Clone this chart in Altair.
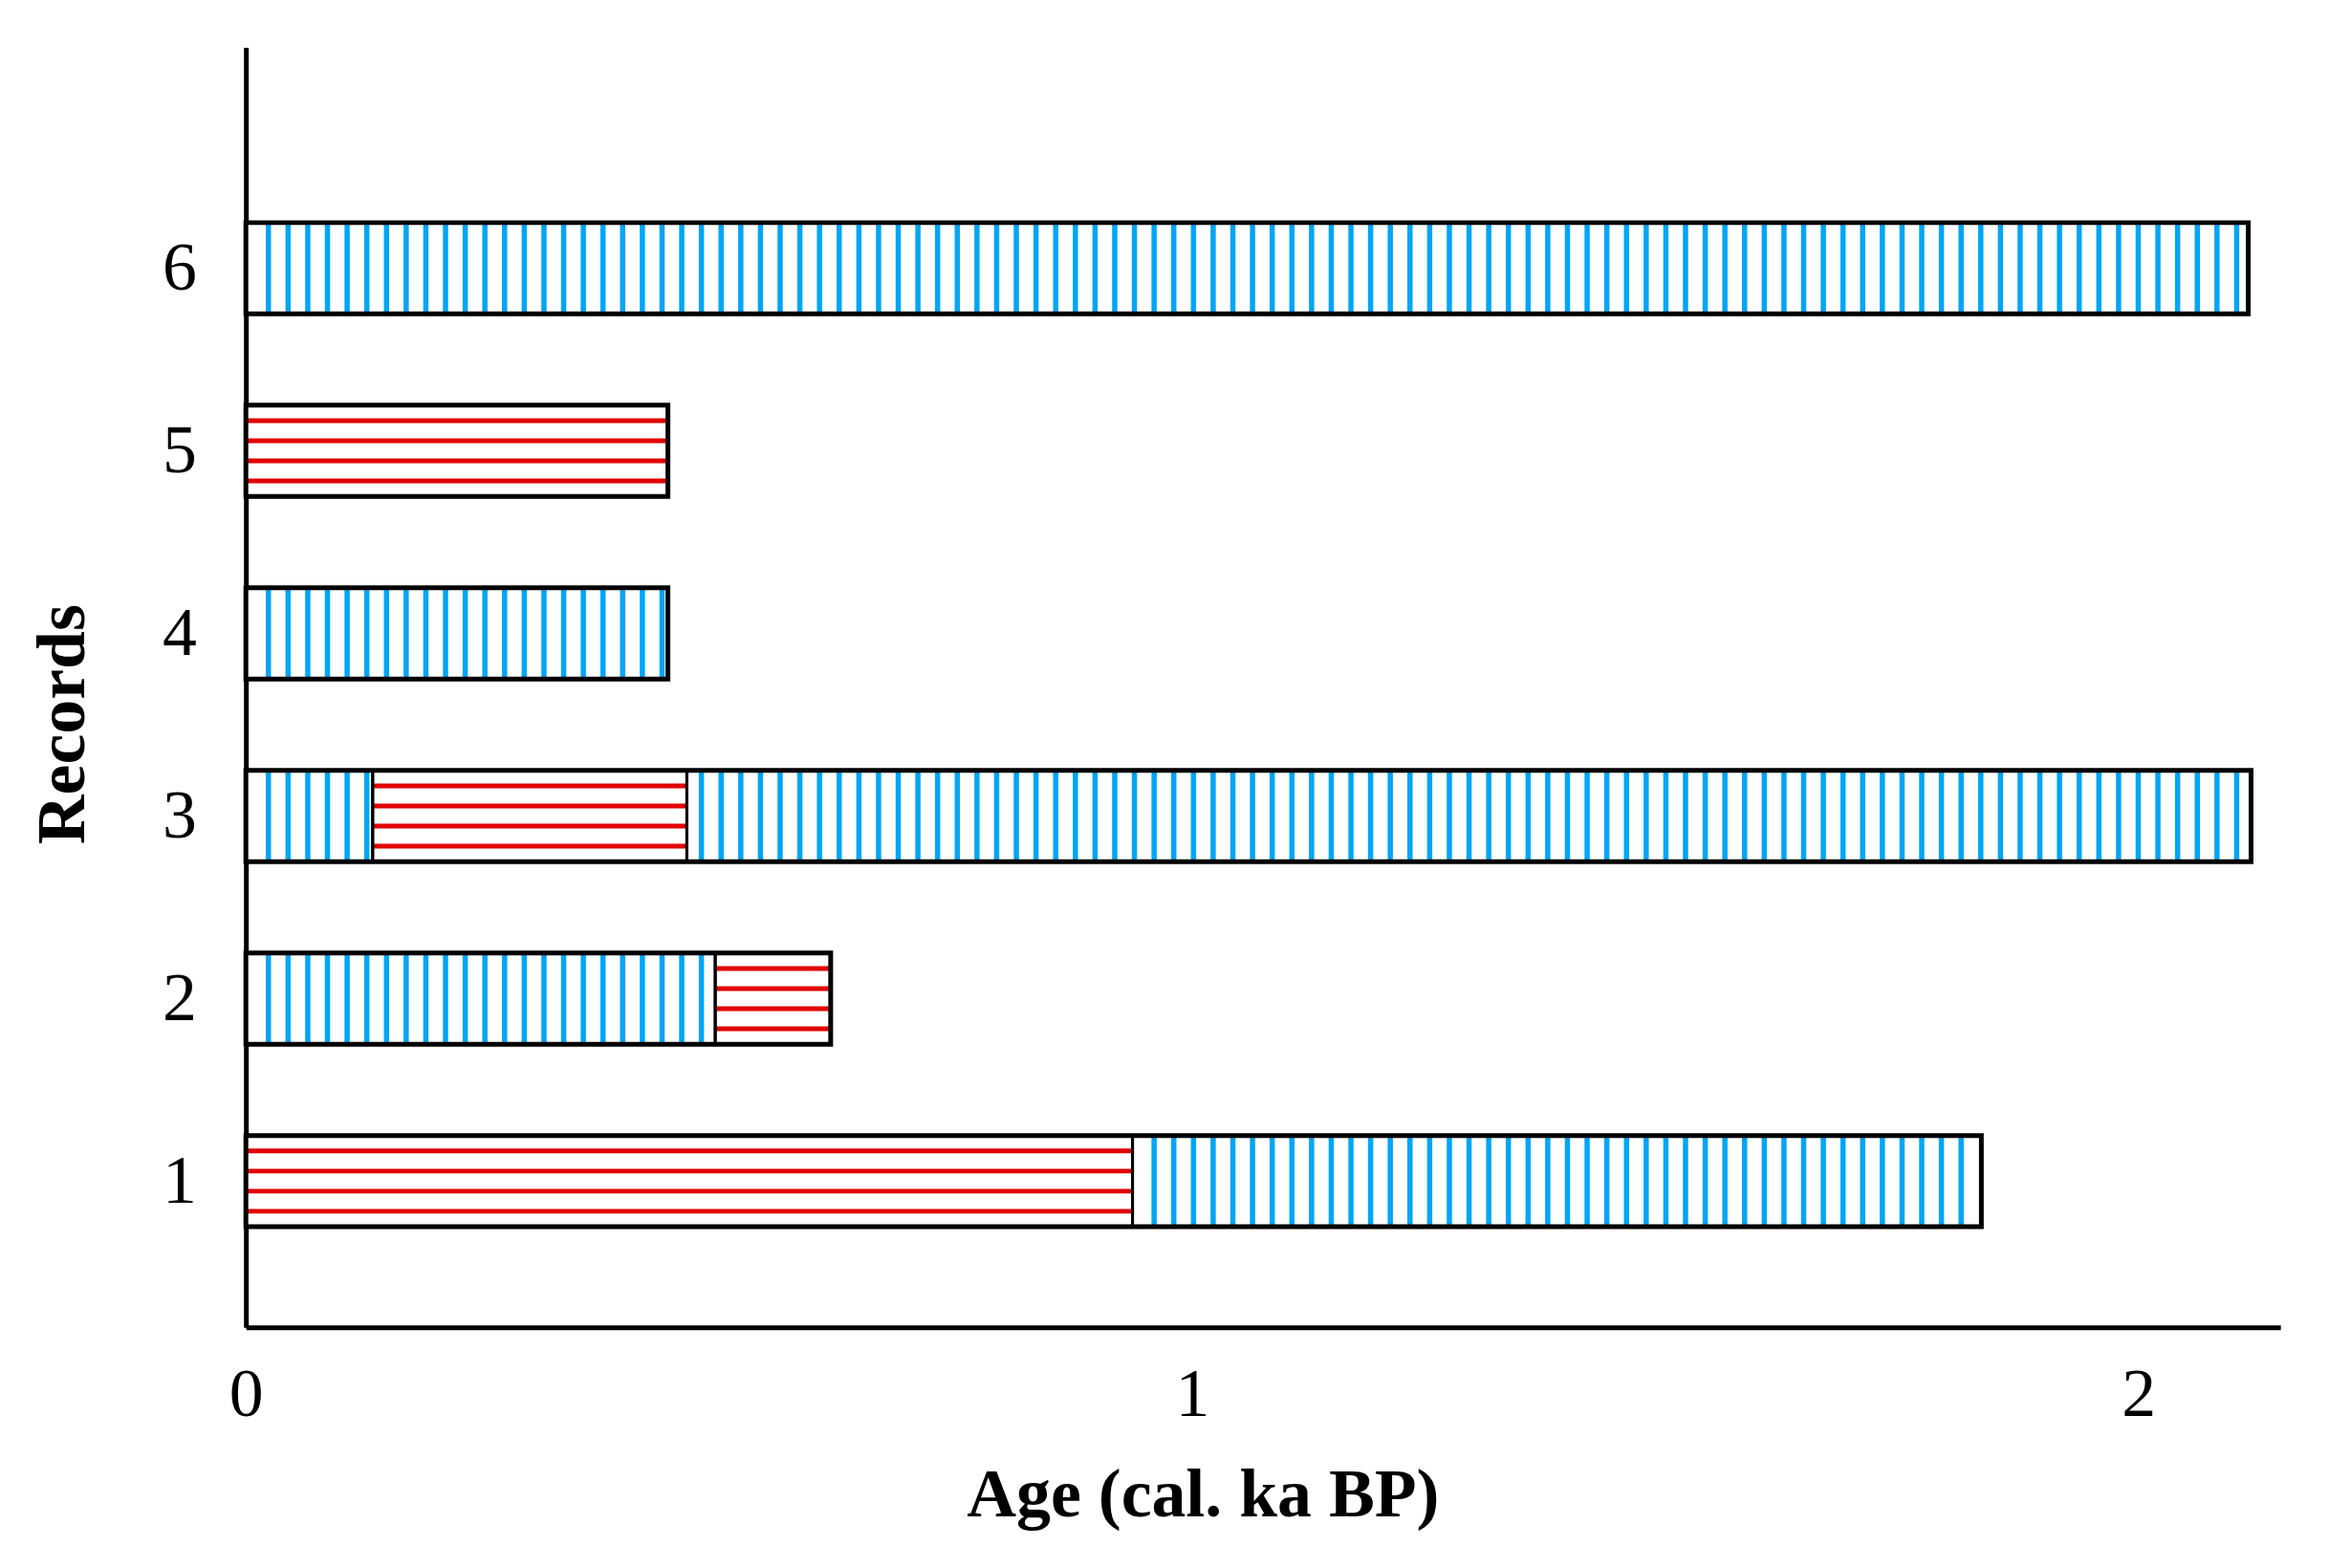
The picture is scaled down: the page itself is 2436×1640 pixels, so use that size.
import altair as alt
import numpy as np
import pandas as pd

# ---- data ----
records = [1, 1, 2, 2, 3, 3, 3, 4, 5, 6]
starts = [0.0, 0.937, 0.0, 0.496, 0.0, 0.134, 0.466, 0.0, 0.0, 0.0]
ends = [0.937, 1.834, 0.496, 0.618, 0.134, 0.466, 2.119, 0.446, 0.446, 2.116]
kinds = ["red", "blue", "blue", "red", "blue", "red", "blue", "blue", "red", "blue"]

x_ticks = [0, 1, 2]
y_ticks = [1, 2, 3, 4, 5, 6]

# ---- styling ----
RED = "#e10000"
BLUE = "#00a6f5"
FONT = "Liberation Serif"
HALF = 0.25            # half bar thickness (record units)
STRIPE_STEP = 0.0208   # hatch spacing (ka)
STRIPE_OFF = 0.0238
RED_OFFSETS = [-0.165, -0.055, 0.055, 0.165]

seg = pd.DataFrame({"record": records, "start": starts, "end": ends, "kind": kinds})
seg["ylo"] = seg["record"] - HALF
seg["yhi"] = seg["record"] + HALF

# vertical blue hatching inside blue segments
rows = []
for r, s, e, k in zip(records, starts, ends, kinds):
    if k != "blue":
        continue
    k0 = int(np.ceil((s - STRIPE_OFF) / STRIPE_STEP))
    while True:
        xv = STRIPE_OFF + k0 * STRIPE_STEP
        if xv >= e - 0.004:
            break
        if xv > s + 0.004:
            rows.append({"record": r, "x": xv, "ylo": r - HALF, "yhi": r + HALF})
        k0 += 1
blue_df = pd.DataFrame(rows)

# horizontal red hatching inside red segments
rrows = []
for r, s, e, k in zip(records, starts, ends, kinds):
    if k != "red":
        continue
    for o in RED_OFFSETS:
        rrows.append({"record": r, "start": s, "end": e, "y": r + o})
red_df = pd.DataFrame(rrows)

xs = alt.Scale(domain=[0, 2.15], nice=False, zero=False)
ys = alt.Scale(domain=[0.2, 7.21], nice=False, zero=False)

x_axis = alt.Axis(
    values=x_ticks, format="d", ticks=False, grid=False, labelFlush=False,
    labelFont=FONT, labelFontSize=72, labelColor="black", labelPadding=36,
    domainColor="black", domainWidth=5,
    title="Age (cal. ka BP)", titleFont=FONT, titleFontSize=72,
    titleFontWeight="bold", titleColor="black",
    titleX=1004, titleY=198, titleAlign="center", titleBaseline="alphabetic",
)
y_axis = alt.Axis(
    values=y_ticks, format="d", ticks=False, grid=False, labelFlush=False,
    labelFont=FONT, labelFontSize=72, labelColor="black", labelPadding=52,
    domainColor="black", domainWidth=5,
    title="Records", titleFont=FONT, titleFontSize=72,
    titleFontWeight="bold", titleColor="black", titleAngle=270,
    titleX=-170, titleY=710, titleAlign="center", titleBaseline="alphabetic",
)

fill = alt.Chart(seg).mark_rect(fill="white").encode(
    x=alt.X("start:Q", scale=xs, axis=x_axis),
    x2="end:Q",
    y=alt.Y("ylo:Q", scale=ys, axis=y_axis),
    y2="yhi:Q",
)

blue = alt.Chart(blue_df).mark_rule(color=BLUE, strokeWidth=5.5).encode(
    x=alt.X("x:Q", scale=xs, axis=x_axis),
    y=alt.Y("ylo:Q", scale=ys, axis=y_axis),
    y2="yhi:Q",
)

red = alt.Chart(red_df).mark_rule(color=RED, strokeWidth=5).encode(
    x=alt.X("start:Q", scale=xs, axis=x_axis),
    x2="end:Q",
    y=alt.Y("y:Q", scale=ys, axis=y_axis),
)

borders = alt.Chart(seg).mark_rect(fillOpacity=0, stroke="black", strokeWidth=3).encode(
    x=alt.X("start:Q", scale=xs, axis=x_axis),
    x2="end:Q",
    y=alt.Y("ylo:Q", scale=ys, axis=y_axis),
    y2="yhi:Q",
)

outline = (
    alt.Chart(seg)
    .transform_aggregate(s="min(start)", e="max(end)", groupby=["record"])
    .transform_calculate(lo=f"datum.record - {HALF}", hi=f"datum.record + {HALF}")
    .mark_rect(fillOpacity=0, stroke="black", strokeWidth=5)
    .encode(
        x=alt.X("s:Q", scale=xs, axis=x_axis),
        x2="e:Q",
        y=alt.Y("lo:Q", scale=ys, axis=y_axis),
        y2="hi:Q",
    )
)

chart = (
    alt.layer(fill, blue, red, borders, outline)
    .properties(
        width=2135,
        height=1343,
        autosize=alt.AutoSizeParams(type="none"),
        padding={"left": 250, "top": 39, "right": 43, "bottom": 250},
        background="white",
    )
    .configure_view(strokeWidth=0)
)

chart.save("out.html", embed_options={"renderer": "svg", "actions": False})
